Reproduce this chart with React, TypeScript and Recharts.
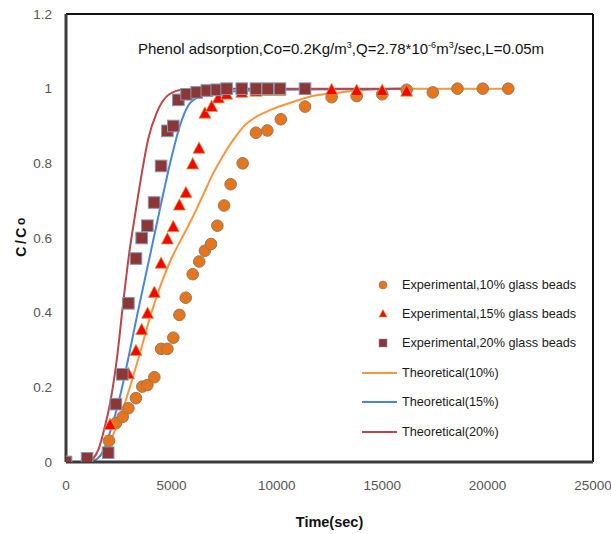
import {
  ComposedChart,
  Line,
  Scatter,
  XAxis,
  YAxis,
  ReferenceLine,
  Legend,
} from "recharts";

// time (sec), C/Co
const exp10: [number, number][] = [
  [0, 0], [1000, 0.005], [2040, 0.057], [2370, 0.104], [2690, 0.121],
  [2960, 0.144], [3320, 0.171], [3620, 0.202], [3860, 0.206], [4190, 0.227],
  [4510, 0.303], [4810, 0.303], [5090, 0.333], [5380, 0.394], [5680, 0.44],
  [6010, 0.503], [6320, 0.537], [6590, 0.566], [6880, 0.584], [7180, 0.633],
  [7500, 0.687], [7810, 0.744], [8380, 0.8], [9010, 0.882], [9550, 0.888],
  [10190, 0.918], [11340, 0.952], [12600, 0.977], [13790, 0.98],
  [15000, 0.985], [16160, 0.997], [17400, 0.99], [18570, 1.0],
  [19770, 1.0], [20980, 1.0],
];

const exp15: [number, number][] = [
  [0, 0], [1000, 0.005], [2090, 0.1], [2960, 0.236], [3320, 0.298],
  [3590, 0.354], [3870, 0.398], [4190, 0.454], [4510, 0.532], [4810, 0.597],
  [5090, 0.63], [5380, 0.688], [5690, 0.721], [6010, 0.798], [6310, 0.84],
  [6590, 0.934], [6910, 0.952], [7230, 0.975], [7620, 0.985], [8340, 0.99],
  [9010, 0.993], [9570, 0.995], [10150, 0.995], [11340, 0.997],
  [12600, 0.997], [13790, 0.995], [15000, 0.995], [16160, 0.993],
];

const exp20: [number, number][] = [
  [0, 0], [1000, 0.01], [2000, 0.025], [2370, 0.155], [2670, 0.235],
  [2960, 0.425], [3320, 0.545], [3590, 0.6], [3860, 0.633], [4180, 0.695],
  [4510, 0.793], [4810, 0.887], [5090, 0.9], [5330, 0.97], [5720, 0.985],
  [6200, 0.99], [6680, 0.995], [7150, 0.997], [7620, 1.0], [8340, 1.0],
  [9010, 1.0], [9570, 1.0], [10150, 1.0], [11340, 1.0],
];

const theo10: [number, number][] = [
  [0, 0], [1000, 0], [1500, 0.01], [2000, 0.045], [2500, 0.11],
  [3000, 0.195], [3500, 0.29], [4000, 0.39], [4500, 0.475], [5000, 0.545],
  [5500, 0.6], [6000, 0.655], [6500, 0.715], [7000, 0.775], [7500, 0.825],
  [8000, 0.868], [8500, 0.903], [9000, 0.924], [9700, 0.943], [10800, 0.965],
  [11600, 0.979], [12700, 0.988], [14300, 0.997], [16000, 1.0], [21000, 1.0],
];

const theo15: [number, number][] = [
  [0, 0], [1000, 0], [1400, 0.005], [1800, 0.035], [2200, 0.1],
  [2600, 0.185], [3000, 0.29], [3400, 0.4], [3800, 0.505], [4200, 0.61],
  [4600, 0.715], [5000, 0.815], [5400, 0.9], [5800, 0.955], [6300, 0.978],
  [7000, 0.988], [8000, 0.993], [10000, 0.997], [16300, 1.0],
];

const theo20: [number, number][] = [
  [0, 0], [1000, 0], [1300, 0.01], [1550, 0.035], [1800, 0.085],
  [2100, 0.16], [2400, 0.27], [2700, 0.42], [3000, 0.56], [3300, 0.67],
  [3600, 0.775], [3900, 0.865], [4300, 0.935], [4900, 0.985], [5600, 0.998],
  [7000, 1.0], [16300, 1.0],
];

const xTicks = [0, 5000, 10000, 15000, 20000, 25000];
const yTicks = [0, 0.2, 0.4, 0.6, 0.8, 1, 1.2];

const legendLabels = [
  "Experimental,10% glass beads",
  "Experimental,15% glass beads",
  "Experimental,20% glass beads",
  "Theoretical(10%)",
  "Theoretical(15%)",
  "Theoretical(20%)",
];

const toRows = (pts: [number, number][]) => pts.map(([t, c]) => ({ t, c }));

const ORANGE = "#E8751A";
const RED = "#FF0000";
const MAROON = "#8E3536";
const LINE_ORANGE = "#F7963F";
const LINE_BLUE = "#4A86D6";
const LINE_RED = "#B9474A";
const FONT = "'Liberation Sans', Arial, sans-serif";

const CircleMark = (p: any) => (
  <circle cx={p.cx} cy={p.cy} r={5.8} fill={ORANGE} stroke="#8d7a66" strokeWidth={1} />
);

const TriMark = (p: any) => {
  const s = 6.5;
  return (
    <path
      d={`M${p.cx},${p.cy - s} L${p.cx + s * 0.92},${p.cy + s * 0.75} L${p.cx - s * 0.92},${p.cy + s * 0.75} Z`}
      fill={RED}
      stroke="#c9a13c"
      strokeWidth={0.8}
    />
  );
};

const SquareMark = (p: any) => (
  <rect x={p.cx - 5.8} y={p.cy - 5.8} width={11.6} height={11.6} fill={MAROON} stroke="#7f9bb5" strokeWidth={1} />
);

function LegendBox() {
  const icon = (i: number) => {
    if (i === 0) return <circle cx={23} cy={14} r={4} fill={ORANGE} stroke="#8d7a66" strokeWidth={0.6} />;
    if (i === 1) return <path d="M23,9.5 L27,17 L19,17 Z" fill={RED} stroke="#c9a13c" strokeWidth={0.6} />;
    if (i === 2) return <rect x={19} y={10} width={8} height={8} fill={MAROON} stroke="#7f9bb5" strokeWidth={0.6} />;
    const color = [LINE_ORANGE, LINE_BLUE, LINE_RED][i - 3];
    return <line x1={2} x2={37} y1={14} y2={14} stroke={color} strokeWidth={2} />;
  };
  return (
    <div style={{ fontFamily: FONT, fontSize: 12.7, color: "#1a1a1a" }}>
      {legendLabels.map((label, i) => (
        <div key={label} style={{ display: "flex", alignItems: "center", height: 29.4 }}>
          <svg width={42} height={28} style={{ flexShrink: 0 }}>
            {icon(i)}
          </svg>
          <span style={{ whiteSpace: "nowrap" }}>{label}</span>
        </div>
      ))}
    </div>
  );
}

const YTitle = (props: any) => {
  const vb = props.viewBox || { x: 0, y: 14, width: 66, height: 448 };
  const cx = vb.x + 21;
  const cy = vb.y + vb.height / 2 - 2;
  return (
    <text
      transform={`translate(${cx},${cy}) rotate(-90)`}
      textAnchor="middle"
      dominantBaseline="central"
      fontFamily={FONT}
      fontSize={14}
      fontWeight="bold"
      letterSpacing={2.5}
      fill="#111"
    >
      C/C<tspan fontSize={12}>o</tspan>
    </text>
  );
};

export default function App() {
  return (
    <div
      style={{
        position: "absolute",
        left: 0,
        top: 0,
        width: 611,
        height: 534,
        background: "#fff",
        fontFamily: FONT,
      }}
    >
      <ComposedChart
        width={611}
        height={534}
        margin={{ top: 14, right: 18, left: 0, bottom: 0 }}
      >
        <XAxis
          dataKey="t"
          type="number"
          domain={[0, 25000]}
          ticks={xTicks}
          allowDataOverflow
          height={72}
          axisLine={{ stroke: "#3a3a3a", strokeWidth: 3 }}
          tickLine={false}
          tickSize={6}
          tickMargin={12}
          tick={{ fontSize: 13.5, fill: "#555", fontFamily: FONT }}
          label={{
            value: "Time(sec)",
            position: "insideBottom",
            offset: 7,
            style: { fontSize: 14.5, fontWeight: "bold", fill: "#111", fontFamily: FONT },
          }}
        />
        <YAxis
          dataKey="c"
          type="number"
          domain={[0, 1.2]}
          ticks={yTicks}
          allowDataOverflow
          width={66}
          axisLine={{ stroke: "#3a3a3a", strokeWidth: 3 }}
          tickLine={false}
          tickSize={6}
          tickMargin={8}
          tick={{ fontSize: 13.5, fill: "#555", fontFamily: FONT }}
          label={{ content: YTitle }}
        />
        <ReferenceLine y={1.2} stroke="#111" strokeWidth={2} />
        <ReferenceLine x={25000} stroke="#111" strokeWidth={2} />

        <Scatter
          name="Experimental,10% glass beads"
          data={toRows(exp10)}
          shape={CircleMark}
          isAnimationActive={false}
        />
        <Scatter
          name="Experimental,15% glass beads"
          data={toRows(exp15)}
          shape={TriMark}
          isAnimationActive={false}
        />
        <Scatter
          name="Experimental,20% glass beads"
          data={toRows(exp20)}
          shape={SquareMark}
          isAnimationActive={false}
        />
        <Line
          name="Theoretical(10%)"
          data={toRows(theo10)}
          dataKey="c"
          type="monotone"
          stroke={LINE_ORANGE}
          strokeWidth={2}
          dot={false}
          activeDot={false}
          isAnimationActive={false}
        />
        <Line
          name="Theoretical(15%)"
          data={toRows(theo15)}
          dataKey="c"
          type="monotone"
          stroke={LINE_BLUE}
          strokeWidth={2}
          dot={false}
          activeDot={false}
          isAnimationActive={false}
        />
        <Line
          name="Theoretical(20%)"
          data={toRows(theo20)}
          dataKey="c"
          type="monotone"
          stroke={LINE_RED}
          strokeWidth={2}
          dot={false}
          activeDot={false}
          isAnimationActive={false}
        />
        <Legend
          layout="vertical"
          align="center"
          verticalAlign="middle"
          content={() => <LegendBox />}
          wrapperStyle={{ top: 270, left: 360, width: 240 }}
        />
      </ComposedChart>
      <div
        style={{
          position: "absolute",
          left: 341,
          top: 38,
          transform: "translateX(-50%)",
          whiteSpace: "nowrap",
          fontSize: 15,
          lineHeight: "15px",
          color: "#111",
        }}
      >
        Phenol adsorption,Co=0.2Kg/m<sup style={{ fontSize: 9 }}>3</sup>,Q=2.78*10
        <sup style={{ fontSize: 9 }}>-6</sup>m<sup style={{ fontSize: 9 }}>3</sup>/sec,L=0.05m
      </div>
    </div>
  );
}
